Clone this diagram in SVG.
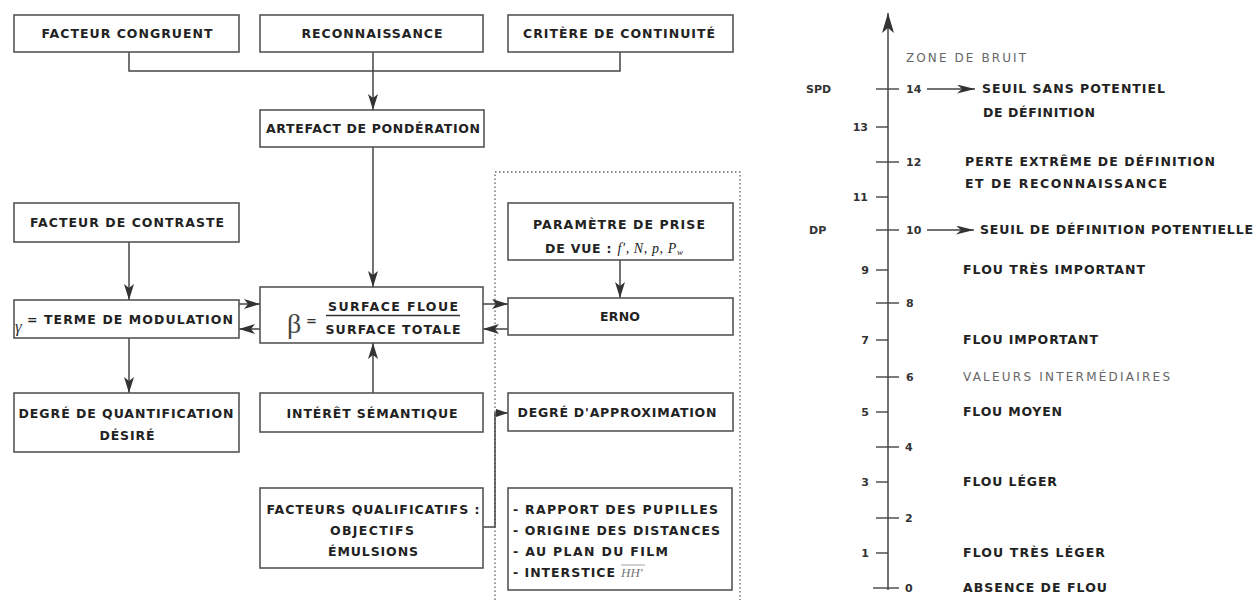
<svg xmlns="http://www.w3.org/2000/svg" width="1256" height="600" viewBox="0 0 1256 600">
<style>
  .box { fill: #ffffff; stroke: #555; stroke-width: 1.6; }
  .t { font-family: "DejaVu Sans", "Liberation Sans", sans-serif; font-weight: bold; font-size: 12.5px; fill: #222; }
  .lt { font-family: "DejaVu Sans", "Liberation Sans", sans-serif; font-weight: normal; font-size: 12px; fill: #666; }
  .num { font-family: "DejaVu Sans", "Liberation Sans", sans-serif; font-weight: bold; font-size: 11px; fill: #333; }
  .c { text-anchor: middle; }
  .ln { fill: none; stroke: #444; stroke-width: 1.5; }
  .arr { fill: none; stroke: #444; stroke-width: 1.5; marker-end: url(#ah); }
  .tick { stroke: #444; stroke-width: 1.4; }
  .dot { fill: none; stroke: #666; stroke-width: 1.3; stroke-dasharray: 1.5 2.5; }
</style>
<defs>
  <marker id="ah" markerUnits="userSpaceOnUse" markerWidth="16" markerHeight="10" refX="16" refY="5" orient="auto">
    <path d="M0,0 L16,5 L0,10 L4,5 z" fill="#333"/>
  </marker>
  <marker id="ahm" markerUnits="userSpaceOnUse" markerWidth="12" markerHeight="9" refX="12" refY="4.5" orient="auto">
    <path d="M0,0.5 L12,4.5 L0,8.5 z" fill="#333"/>
  </marker>
  <marker id="ahs" markerUnits="userSpaceOnUse" markerWidth="18" markerHeight="9" refX="18" refY="4.5" orient="auto">
    <path d="M0,0 L18,4.5 L0,9 L5,4.5 z" fill="#333"/>
  </marker>
  <marker id="ax" markerUnits="userSpaceOnUse" markerWidth="20" markerHeight="12" refX="20" refY="6" orient="auto">
    <path d="M0,0 L20,6 L0,12 L5,6 z" fill="#333"/>
  </marker>
</defs>
<rect width="1256" height="600" fill="#ffffff"/>

<!-- dotted frame -->
<path class="dot" d="M495,600 V172 H740 V600"/>

<!-- connectors -->
<g id="connectors">
  <path class="ln" d="M129,52 V71 H620 V52"/>
  <path class="arr" d="M373,52 V110"/>
  <path class="arr" d="M373,147 V287"/>
  <path class="arr" d="M129,242 V300"/>
  <path class="arr" d="M239,304 H260"/>
  <path class="arr" d="M260,329 H239"/>
  <path class="arr" d="M483,304 H508"/>
  <path class="arr" d="M508,329 H483"/>
  <path class="arr" d="M129,338 V393"/>
  <path class="arr" d="M373,393 V343"/>
  <path class="arr" d="M620,260 V298"/>
  <path class="ln" d="M483,527 H495 V413 H508" style="marker-end:url(#ahm)"/>
</g>

<g id="facteur-congruent">
  <rect class="box" x="14" y="15" width="225" height="37"/>
  <text class="t c" x="127" y="38" textLength="171" lengthAdjust="spacing">FACTEUR CONGRUENT</text>
</g>
<g id="reconnaissance">
  <rect class="box" x="260" y="15" width="223" height="37"/>
  <text class="t c" x="372" y="38" textLength="141" lengthAdjust="spacing">RECONNAISSANCE</text>
</g>
<g id="critere-continuite">
  <rect class="box" x="508" y="15" width="225" height="37"/>
  <text class="t c" x="619" y="38" textLength="192" lengthAdjust="spacing">CRITÈRE DE CONTINUITÉ</text>
</g>
<g id="artefact">
  <rect class="box" x="260" y="110" width="224" height="37"/>
  <text class="t c" x="373" y="133" textLength="214" lengthAdjust="spacing">ARTEFACT DE PONDÉRATION</text>
</g>
<g id="facteur-contraste">
  <rect class="box" x="14" y="203" width="225" height="39"/>
  <text class="t c" x="127" y="227" textLength="194" lengthAdjust="spacing">FACTEUR DE CONTRASTE</text>
</g>
<g id="terme-modulation">
  <rect class="box" x="14" y="300" width="225" height="38"/>
  <text x="15" y="332" style="font-family:'Liberation Serif',serif;font-style:italic;font-size:17px;fill:#333">γ</text>
  <text class="t" x="27" y="324" textLength="206" lengthAdjust="spacing">= TERME DE MODULATION</text>
</g>
<g id="beta">
  <rect class="box" x="260" y="287" width="223" height="56"/>
  <text x="287" y="333" style="font-family:'Liberation Serif',serif;font-size:28px;fill:#444">β</text>
  <text x="306" y="325" style="font-family:'DejaVu Sans',sans-serif;font-weight:bold;font-size:13px;fill:#333">=</text>
  <text class="t c" x="393" y="311" textLength="130" lengthAdjust="spacing">SURFACE FLOUE</text>
  <line x1="326" y1="315.5" x2="460" y2="315.5" stroke="#333" stroke-width="1.6"/>
  <text class="t c" x="393" y="334" textLength="135" lengthAdjust="spacing">SURFACE TOTALE</text>
</g>
<g id="parametre">
  <rect class="box" x="508" y="203" width="225" height="57"/>
  <text class="t c" x="619" y="229" textLength="172" lengthAdjust="spacing">PARAMÈTRE DE PRISE</text>
  <text class="t" x="545" y="253" letter-spacing="0.8">DE VUE : <tspan style="font-family:'Liberation Serif',serif;font-style:italic;font-weight:normal;font-size:14px" letter-spacing="0.6">f', N, p, P<tspan font-size="9" dy="2">w</tspan></tspan></text>
</g>
<g id="erno">
  <rect class="box" x="508" y="298" width="225" height="37"/>
  <text class="t c" x="620" y="321" textLength="40" lengthAdjust="spacing">ERNO</text>
</g>
<g id="degre-quantification">
  <rect class="box" x="14" y="393" width="225" height="59"/>
  <text class="t c" x="126" y="418" textLength="215" lengthAdjust="spacing">DEGRÉ DE QUANTIFICATION</text>
  <text class="t c" x="127" y="440" textLength="55" lengthAdjust="spacing">DÉSIRÉ</text>
</g>
<g id="interet-semantique">
  <rect class="box" x="260" y="393" width="223" height="39"/>
  <text class="t c" x="372" y="418" textLength="171" lengthAdjust="spacing">INTÉRÊT SÉMANTIQUE</text>
</g>
<g id="degre-approximation">
  <rect class="box" x="508" y="393" width="225" height="38"/>
  <text class="t c" x="617" y="417" textLength="199" lengthAdjust="spacing">DEGRÉ D'APPROXIMATION</text>
</g>
<g id="facteurs-qualificatifs">
  <rect class="box" x="260" y="488" width="223" height="80"/>
  <text class="t c" x="373" y="514" textLength="213" lengthAdjust="spacing">FACTEURS QUALIFICATIFS :</text>
  <text class="t c" x="372" y="535" textLength="84" lengthAdjust="spacing">OBJECTIFS</text>
  <text class="t c" x="373" y="556" textLength="90" lengthAdjust="spacing">ÉMULSIONS</text>
</g>
<g id="liste-parametres">
  <rect class="box" x="508" y="488" width="224" height="102"/>
  <text class="t" x="513" y="514" textLength="205" lengthAdjust="spacing">- RAPPORT DES PUPILLES</text>
  <text class="t" x="513" y="535" textLength="207" lengthAdjust="spacing">- ORIGINE DES DISTANCES</text>
  <text class="t" x="513" y="556" textLength="155" lengthAdjust="spacing">- AU PLAN DU FILM</text>
  <text class="t" x="513" y="577" textLength="102" lengthAdjust="spacing">- INTERSTICE</text>
  <text x="621" y="577" style="font-family:'Liberation Serif',serif;font-style:italic;font-size:13px;fill:#777">HH'</text>
  <line x1="621" y1="565" x2="645" y2="565" stroke="#888" stroke-width="0.8"/>
</g>

<!-- scale -->
<g id="echelle">
  <line x1="888" y1="590" x2="888" y2="13" stroke="#444" stroke-width="1.5" marker-end="url(#ax)"/>
  <text class="lt" x="906" y="62" textLength="120" lengthAdjust="spacing">ZONE DE BRUIT</text>

  <!-- even ticks -->
  <line class="tick" x1="876" y1="89" x2="899" y2="89"/>
  <line class="tick" x1="876" y1="162" x2="899" y2="162"/>
  <line class="tick" x1="876" y1="230" x2="899" y2="230"/>
  <line class="tick" x1="876" y1="303" x2="899" y2="303"/>
  <line class="tick" x1="876" y1="377" x2="899" y2="377"/>
  <line class="tick" x1="876" y1="447" x2="899" y2="447"/>
  <line class="tick" x1="876" y1="518" x2="899" y2="518"/>
  <line class="tick" x1="873" y1="588" x2="899" y2="588"/>
  <text class="num" x="906" y="93">14</text>
  <text class="num" x="906" y="166">12</text>
  <text class="num" x="906" y="234">10</text>
  <text class="num" x="906" y="307">8</text>
  <text class="num" x="906" y="381">6</text>
  <text class="num" x="905" y="451">4</text>
  <text class="num" x="905" y="522">2</text>
  <text class="num" x="905" y="592">0</text>

  <!-- odd ticks -->
  <line class="tick" x1="876" y1="127" x2="888" y2="127"/>
  <line class="tick" x1="876" y1="197" x2="888" y2="197"/>
  <line class="tick" x1="876" y1="270" x2="888" y2="270"/>
  <line class="tick" x1="876" y1="340" x2="888" y2="340"/>
  <line class="tick" x1="876" y1="412" x2="888" y2="412"/>
  <line class="tick" x1="876" y1="482" x2="888" y2="482"/>
  <line class="tick" x1="876" y1="553" x2="888" y2="553"/>
  <text class="num" x="868" y="131" text-anchor="end">13</text>
  <text class="num" x="868" y="201" text-anchor="end">11</text>
  <text class="num" x="869" y="274" text-anchor="end">9</text>
  <text class="num" x="869" y="344" text-anchor="end">7</text>
  <text class="num" x="869" y="416" text-anchor="end">5</text>
  <text class="num" x="869" y="486" text-anchor="end">3</text>
  <text class="num" x="869" y="557" text-anchor="end">1</text>

  <text class="num" x="806" y="93">SPD</text>
  <text class="num" x="809" y="234">DP</text>

  <line x1="927" y1="89" x2="975" y2="89" stroke="#444" stroke-width="1.4" marker-end="url(#ahs)"/>
  <line x1="927" y1="230" x2="974" y2="230" stroke="#444" stroke-width="1.4" marker-end="url(#ahs)"/>

  <text class="t" x="982" y="93" textLength="183" lengthAdjust="spacing">SEUIL SANS POTENTIEL</text>
  <text class="t" x="983" y="117" textLength="112" lengthAdjust="spacing">DE DÉFINITION</text>
  <text class="t" x="965" y="166" textLength="250" lengthAdjust="spacing">PERTE EXTRÊME DE DÉFINITION</text>
  <text class="t" x="965" y="188" textLength="202" lengthAdjust="spacing">ET DE RECONNAISSANCE</text>
  <text class="t" x="980" y="234" textLength="273" lengthAdjust="spacing">SEUIL DE DÉFINITION POTENTIELLE</text>
  <text class="t" x="963" y="274" textLength="182" lengthAdjust="spacing">FLOU TRÈS IMPORTANT</text>
  <text class="t" x="963" y="344" textLength="135" lengthAdjust="spacing">FLOU IMPORTANT</text>
  <text class="lt" x="963" y="381" textLength="207" lengthAdjust="spacing">VALEURS INTERMÉDIAIRES</text>
  <text class="t" x="963" y="416" textLength="99" lengthAdjust="spacing">FLOU MOYEN</text>
  <text class="t" x="963" y="486" textLength="94" lengthAdjust="spacing">FLOU LÉGER</text>
  <text class="t" x="963" y="557" textLength="142" lengthAdjust="spacing">FLOU TRÈS LÉGER</text>
  <text class="t" x="963" y="592" textLength="144" lengthAdjust="spacing">ABSENCE DE FLOU</text>
</g>
</svg>
